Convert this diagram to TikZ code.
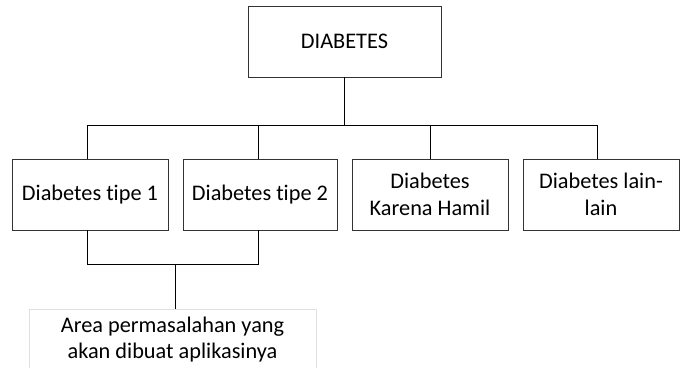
\documentclass[tikz,border=0pt]{standalone}
\usepackage{fontspec}
\setmainfont{Carlito}[Ligatures={NoCommon}]
\begin{document}
\begin{tikzpicture}[x=1pt,y=1pt,
  box/.style={draw=black!80, line width=0.9pt, rectangle, inner sep=0pt,
    minimum height=71pt, align=center, font=\fontsize{22.3}{26.5}\selectfont},
  faint/.style={draw=black!12, line width=0.9pt, rectangle, inner sep=0pt,
    align=center, font=\fontsize{22.3}{26}\selectfont},
  conn/.style={draw=black, line width=0.8pt}]
\useasboundingbox (0,0) rectangle (684,367);
\clip (0,0) rectangle (684,367);
% top box
\node[box, minimum width=193pt] (top) at (344.5,325.5) {DIABETES};
% second row
\node[box, minimum width=156pt] (b1) at (90,172.5) {Diabetes tipe 1};
\node[box, minimum width=154pt] (b2) at (260,172.5) {Diabetes tipe 2};
\node[box, minimum width=156pt] (b3) at (430,172.5) {Diabetes\\Karena Hamil};
\node[box, minimum width=156pt] (b4) at (601,172.5) {Diabetes lain-\\lain};
% bottom box
\node[faint, minimum width=287pt, minimum height=62pt] (area) at (172.5,27)
  {Area permasalahan yang\\akan dibuat aplikasinya};
% junction coordinates
\coordinate (j1) at (344.5,242);
\coordinate (t1) at (87,242);
\coordinate (t2) at (258,242);
\coordinate (t3) at (430,242);
\coordinate (t4) at (597,242);
\coordinate (j2) at (175,103);
\coordinate (u1) at (87,103);
\coordinate (u2) at (258,103);
% connectors
\draw[conn] (top.south) -- (j1);
\draw[conn] (t1) -- (t4);
\draw[conn] (t1) -- (t1 |- b1.north);
\draw[conn] (t2) -- (t2 |- b2.north);
\draw[conn] (t3) -- (t3 |- b3.north);
\draw[conn] (t4) -- (t4 |- b4.north);
\draw[conn] (u1 |- b1.south) -- (u1) -- (u2) -- (u2 |- b2.south);
\draw[conn] (j2) -- (j2 |- area.north);
\end{tikzpicture}
\end{document}
